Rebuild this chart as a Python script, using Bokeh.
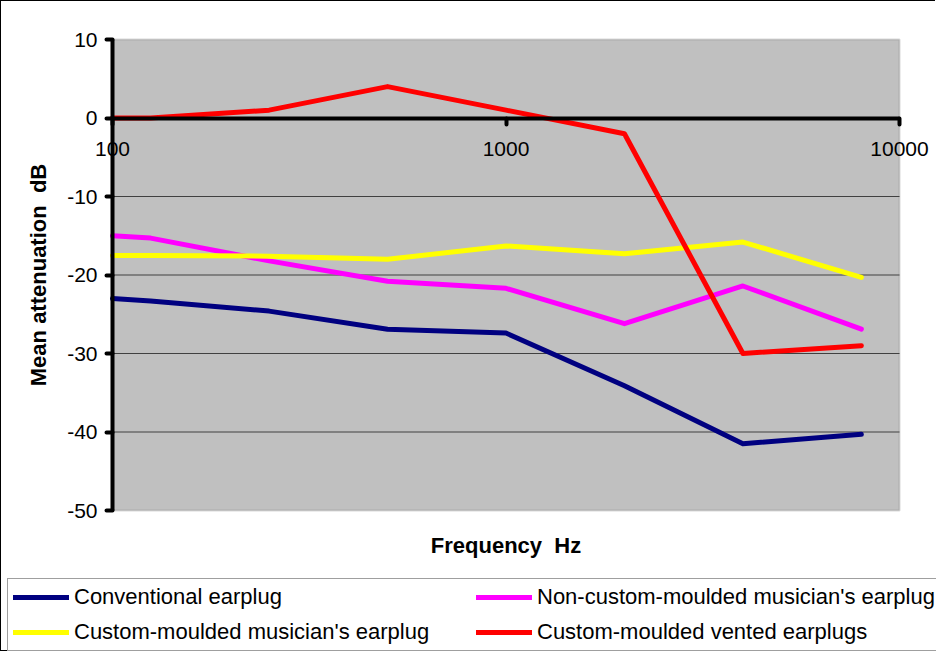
import math
from bokeh.plotting import figure
from bokeh.models import (Range1d, FixedTicker, Legend, LegendItem, BoxAnnotation, Label)
from bokeh.embed import file_html
from bokeh.resources import INLINE

# ---- data ----
freq = [100, 125, 250, 500, 1000, 2000, 4000, 8000]
conventional = [-23.0, -23.3, -24.6, -26.9, -27.4, -34.1, -41.5, -40.3]
non_custom = [-15.0, -15.3, -18.2, -20.8, -21.7, -26.2, -21.4, -26.9]
custom_musician = [-17.5, -17.5, -17.6, -18.0, -16.3, -17.3, -15.8, -20.3]
custom_vented = [0.0, 0.0, 1.0, 4.0, 1.0, -2.0, -30.0, -29.0]

series_names = ["Conventional earplug",
                "Non-custom-moulded musician's earplug",
                "Custom-moulded musician's earplug",
                "Custom-moulded vented earplugs"]
series_colors = ["#000080", "#FF00FF", "#FFFF00", "#FF0000"]

x_ticks = [100, 1000, 10000]
x_tick_labels = ["100", "1000", "10000"]
y_ticks = [-50, -40, -30, -20, -10, 0, 10]
y_tick_labels = ["-50", "-40", "-30", "-20", "-10", "0", "10"]
grid_ticks = [-40, -30, -20, -10, 0]

X_MIN, X_MAX = 100, 10000
Y_MIN, Y_MAX = -50, 10

# ---- layout (pixels on the canvas) ----
FONT = "Liberation Sans"
W, H = 935, 651
PL, PR, PT, PB = 111, 898, 38, 509  # grey plot area edges

px_per_dec = (PR - PL) / (math.log10(X_MAX) - math.log10(X_MIN))
x_lo = 10 ** (math.log10(X_MIN) - PL / px_per_dec)
x_hi = 10 ** (math.log10(X_MAX) + (W - PR) / px_per_dec)
px_per_unit = (PB - PT) / (Y_MAX - Y_MIN)
y_hi = Y_MAX + PT / px_per_unit
y_lo = Y_MIN - (H - PB) / px_per_unit

p = figure(width=W, height=H, x_axis_type="log",
           x_range=Range1d(x_lo, x_hi), y_range=Range1d(y_lo, y_hi),
           output_backend="svg", toolbar_location=None,
           min_border_left=0, min_border_right=0, min_border_top=0, min_border_bottom=0)
p.background_fill_color = "white"
p.border_fill_color = "white"
p.outline_line_color = None
p.grid.visible = False
p.styles = {"border-left": "1px solid black", "border-top": "1px solid black",
            "border-bottom": "1px solid black"}

# grey plot area
p.add_layout(BoxAnnotation(left=X_MIN, right=X_MAX, bottom=Y_MIN, top=Y_MAX,
                           fill_color="#C0C0C0", fill_alpha=1.0,
                           line_color="#808080", line_width=2, level="underlay"))

# horizontal grid lines
p.segment(x0=[X_MIN] * len(grid_ticks), x1=[X_MAX] * len(grid_ticks),
          y0=grid_ticks, y1=grid_ticks, line_color="#404040", line_width=1)

# y axis at x = 100
ya = p.yaxis[0]
ya.fixed_location = X_MIN
ya.bounds = (Y_MIN, Y_MAX)
ya.ticker = FixedTicker(ticks=y_ticks)
ya.major_label_overrides = dict(zip(y_ticks, y_tick_labels))
ya.axis_line_width = 4
ya.axis_line_color = "black"
ya.major_tick_line_width = 4
ya.major_tick_line_cap = "round"
ya.major_tick_in = 0
ya.major_tick_out = 6
ya.minor_tick_line_color = None
ya.major_label_text_font = FONT
ya.major_label_text_font_size = "21px"
ya.major_label_text_color = "black"
ya.major_label_standoff = 9
ya.axis_label = "Mean attenuation\u00a0 dB"
ya.axis_label_text_font = FONT
ya.axis_label_text_font_style = "bold"
ya.axis_label_text_font_size = "22px"
ya.axis_label_text_color = "black"
ya.axis_label_standoff = 13

# x axis at y = 0
xa = p.xaxis[0]
xa.fixed_location = 0
xa.bounds = (X_MIN, X_MAX)
xa.ticker = FixedTicker(ticks=x_ticks)
xa.major_label_overrides = dict(zip(x_ticks, x_tick_labels))
xa.axis_line_width = 4
xa.axis_line_color = "black"
xa.major_tick_line_width = 4
xa.major_tick_line_cap = "round"
xa.major_tick_in = 0
xa.major_tick_out = 6
xa.minor_tick_line_color = None
xa.major_label_text_font = FONT
xa.major_label_text_font_size = "21px"
xa.major_label_text_color = "black"
xa.major_label_standoff = 18

# x axis title under the grey area
p.add_layout(Label(x=math.sqrt(X_MIN * X_MAX), y=Y_MIN, y_offset=-35,
                   text="Frequency\u00a0 Hz", text_font=FONT, text_font_style="bold",
                   text_font_size="22px", text_color="black",
                   text_align="center", text_baseline="middle"))

# series
renderers = []
for vals, col in zip([conventional, non_custom, custom_musician, custom_vented], series_colors):
    r = p.line(freq, vals, line_color=col, line_width=5, line_cap="round", line_join="round")
    renderers.append(r)

# legend: two columns (column-major order)
order = [0, 2, 1, 3]
items = [LegendItem(label=series_names[i], renderers=[renderers[i]]) for i in order]
legend = Legend(items=items, ncols=2, location=(6, 1),
                label_text_font=FONT, label_text_font_size="22px", label_text_color="black",
                glyph_width=56, glyph_height=24, label_height=24, label_width=393,
                label_standoff=5, spacing=9, padding=5, margin=0,
                border_line_color="#404040", border_line_width=1,
                background_fill_color="white", background_fill_alpha=1.0)
p.add_layout(legend, "center")

open("out.html", "w").write(file_html(p, INLINE))
